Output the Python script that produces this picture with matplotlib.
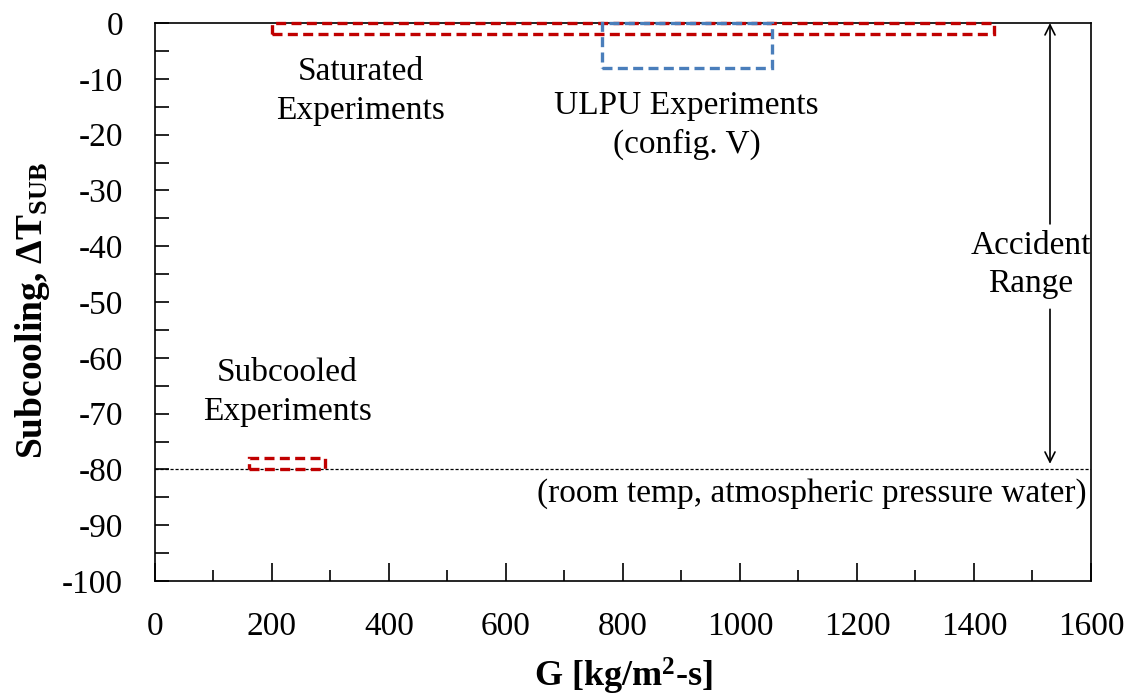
import matplotlib.pyplot as plt
from matplotlib.patches import Rectangle

plt.rcParams['font.family'] = ['Liberation Serif', 'DejaVu Serif']
plt.rcParams['axes.unicode_minus'] = False
plt.rcParams['mathtext.fontset'] = 'custom'
plt.rcParams['mathtext.rm'] = 'Liberation Serif:bold'
plt.rcParams['mathtext.it'] = 'Liberation Serif:bold'
plt.rcParams['mathtext.bf'] = 'Liberation Serif:bold'

# experiment envelopes: mass flux G range and subcooling range
box_names = ["Saturated", "ULPU", "Subcooled"]
box_g_lo = [200, 765, 160]
box_g_hi = [1435, 1055, 290]
box_dt_lo = [-2, -8, -80]
box_dt_hi = [0, 0, -78]
box_colors = ["#C00000", "#4A7EBB", "#C00000"]

room_temp_dt = -80
accident_g = 1530
accident_top = 0
accident_bottom = -79

fig = plt.figure(figsize=(11.37, 6.99), dpi=100)
ax = fig.add_axes([0.1363, 0.1688, 0.8232, 0.7982])

for i in range(len(box_names)):
    r = Rectangle((box_g_lo[i], box_dt_lo[i]), box_g_hi[i] - box_g_lo[i],
                  box_dt_hi[i] - box_dt_lo[i], fill=False,
                  edgecolor=box_colors[i], lw=2.4, linestyle=(0, (3, 1.6)),
                  clip_on=False, zorder=3)
    ax.add_patch(r)

ax.axhline(room_temp_dt, color="k", lw=0.9, linestyle=(0, (2.5, 1.5)), zorder=2)

# accident range arrow, split around the label
ax.annotate("", xy=(accident_g, accident_top), xytext=(accident_g, -36),
            arrowprops=dict(arrowstyle="->", color="k", lw=1.2,
                            shrinkA=0, shrinkB=0, mutation_scale=18))
ax.annotate("", xy=(accident_g, accident_bottom), xytext=(accident_g, -51.3),
            arrowprops=dict(arrowstyle="->", color="k", lw=1.2,
                            shrinkA=0, shrinkB=0, mutation_scale=18))

fs = 24
ls = 1.35
ax.text(1497, -43.3, "Accident\nRange", ha="center", va="center", fontsize=fs,
        linespacing=ls)
ax.text(352, -12.2, "Saturated\nExperiments", ha="center", va="center",
        fontsize=fs, linespacing=ls)
ax.text(909, -18.3, "ULPU Experiments\n(config. V)", ha="center", va="center",
        fontsize=fs, linespacing=ls)
ax.text(226, -66.2, "Subcooled\nExperiments", ha="center", va="center",
        fontsize=fs, linespacing=ls)
ax.text(1592, -84.4, "(room temp, atmospheric pressure water)", ha="right",
        va="center", fontsize=fs)

ax.set_xlim(0, 1600)
ax.set_ylim(-100, 0)
ax.set_xticks(range(0, 1601, 200))
ax.set_xticks(range(100, 1600, 200), minor=True)
ax.set_yticks(range(-100, 1, 10))
ax.set_yticks(range(-95, 0, 10), minor=True)
ax.tick_params(axis="both", which="both", direction="in", labelsize=fs,
               width=1.2)
ax.tick_params(axis="x", which="major", length=13, pad=22)
ax.tick_params(axis="x", which="minor", length=8)
ax.tick_params(axis="y", which="both", length=10, pad=23)
ax.tick_params(top=False, right=False)
for s in ax.spines.values():
    s.set_linewidth(1.2)

ax.set_xlabel("G [kg/m$^{2}$-s]", fontsize=26, fontweight="bold", labelpad=10)
ax.set_ylabel("Subcooling, ΔT$_{\\mathrm{SUB}}$", fontsize=27,
              fontweight="bold", labelpad=8)
ax.yaxis.set_label_coords(-0.11, 0.485)

fig.savefig("out.png", dpi=100)
